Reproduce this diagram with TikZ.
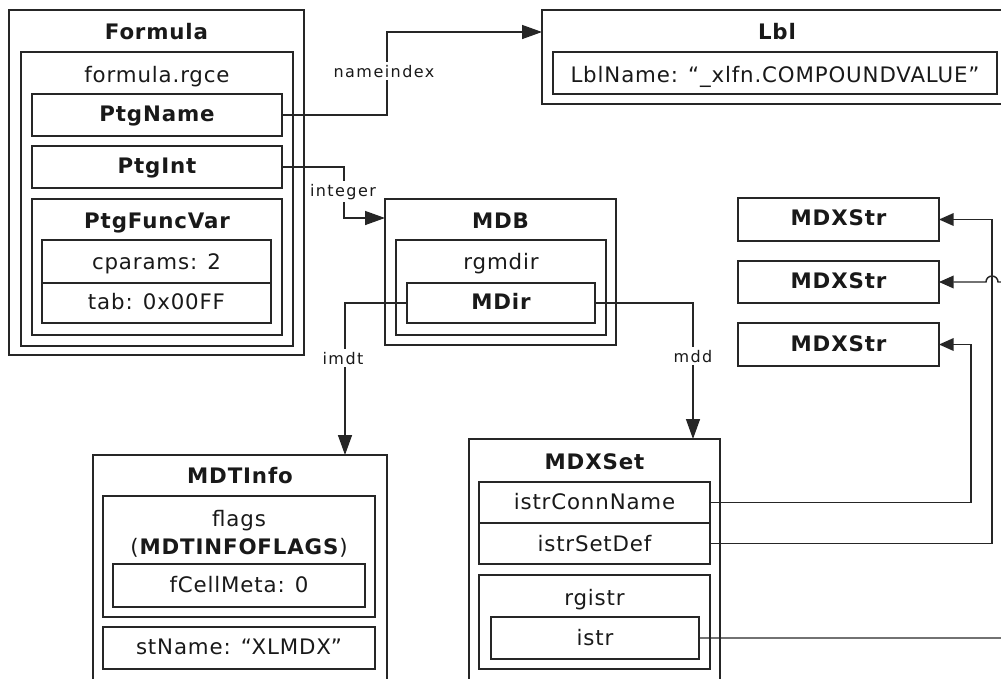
\documentclass[tikz,border=0pt]{standalone}
\usepackage{fontspec}
\setmainfont{DejaVu Sans}[LetterSpace=4]
\newfontfamily\labfont{DejaVu Sans}[LetterSpace=9]
\usetikzlibrary{arrows.meta,calc}
\newcommand{\dbox}[5]{%
  \pgfmathsetmacro\dbw{(#4-#2)*0.75}%
  \pgfmathsetmacro\dbh{(#5-#3)*0.75}%
  \node[boxs, minimum width=\dbw pt, minimum height=\dbh pt, anchor=north west] (#1) at (#2,#3) {};}
\begin{document}
\begin{tikzpicture}[x=0.75pt,y=-0.75pt,
  boxs/.style={draw=black!85,line width=1.1pt,inner sep=0pt,outer sep=0pt},
  ttl/.style={anchor=base,font=\fontsize{16}{19}\selectfont\bfseries,text=black!90,inner sep=0pt},
  txt/.style={anchor=base,font=\fontsize{16}{19}\selectfont,text=black!90,inner sep=0pt},
  lab/.style={anchor=base,font=\labfont\fontsize{12}{14}\selectfont,text=black!90,fill=white,inner sep=2pt},
  conn/.style={line width=1.1pt,draw=black!85},
  bigtip/.style={-{Triangle[length=15pt,width=10.5pt]}},
  smalltip/.style={-{Triangle[length=11pt,width=9.5pt]}}]
\useasboundingbox (0,0) rectangle (1001,679);
\clip (0,0) rectangle (1001,679);
% boxes
\dbox{formula}{9}{10}{304}{355}
\dbox{rgce}{21}{52}{293}{346}
\dbox{ptgname}{32}{94}{282}{136}
\dbox{ptgint}{32}{146}{282}{188}
\dbox{ptgfv}{32}{199}{282}{335}
\dbox{cparams}{42}{240}{271}{283}
\dbox{tab}{42}{283}{271}{323}
\dbox{mdb}{385}{199}{616}{345}
\dbox{rgmdir}{396}{240}{606}{335}
\dbox{mdir}{407}{283}{595}{323}
\dbox{lbl}{542}{10}{1012}{104}
\dbox{lblname}{553}{52}{997}{94}
\dbox{mdxstra}{738}{198}{939}{241}
\dbox{mdxstrb}{738}{261}{939}{303}
\dbox{mdxstrc}{738}{323}{939}{366}
\dbox{mdtinfo}{93}{455}{387}{690}
\dbox{flags}{103}{496}{375}{617}
\dbox{fcell}{113}{564}{365}{607}
\dbox{stname}{103}{627}{375}{669}
\dbox{mdxset}{469}{439}{720}{690}
\dbox{istrconn}{479}{482}{710}{523}
\dbox{istrset}{479}{523}{710}{564}
\dbox{rgistr}{479}{575}{710}{669}
\dbox{istr}{491}{617}{699}{659}
% texts
\node[ttl] (tformula) at (156.5,39.5) {Formula};
\node[txt] (trgce) at (157,82) {formula.rgce};
\node[ttl] (tptgname) at (157,121) {PtgName};
\node[ttl] (tptgint) at (157,173) {PtgInt};
\node[ttl] (tptgfv) at (157,228) {PtgFuncVar};
\node[txt] (tcparams) at (156.5,269) {cparams: 2};
\node[txt] (ttab) at (156.5,309) {tab: 0x00FF};
\node[ttl] (tmdb) at (500.5,228) {MDB};
\node[txt] (trgmdir) at (501,269) {rgmdir};
\node[ttl] (tmdir) at (501,309) {MDir};
\node[ttl] (tlbl) at (777,39.5) {Lbl};
\node[txt] (tlblname) at (775,82) {LblName: “\_xlfn.COMPOUNDVALUE”};
\node[ttl] (tmdxa) at (838.5,225.5) {MDXStr};
\node[ttl] (tmdxb) at (838.5,288) {MDXStr};
\node[ttl] (tmdxc) at (838.5,351) {MDXStr};
\node[ttl] (tmdtinfo) at (240,483) {MDTInfo};
\node[txt] (tflags) at (239,526) {flags};
\node[txt] (tflags2) at (239,554) {(\textbf{MDTINFOFLAGS})};
\node[txt] (tfcell) at (239,592) {fCellMeta: 0};
\node[txt] (tstname) at (239,654) {stName: “XLMDX”};
\node[ttl] (tmdxset) at (594.5,469.5) {MDXSet};
\node[txt] (tistrconn) at (594.5,509) {istrConnName};
\node[txt] (tistrset) at (594.5,551) {istrSetDef};
\node[txt] (trgistr) at (594.5,605) {rgistr};
\node[txt] (tistr) at (595,645) {istr};
% helper coordinates
\coordinate (niX) at (387,77);
\coordinate (lblrow) at (0,32);
\coordinate (intX) at (344,196);
\coordinate (mdbrow) at (0,218);
\coordinate (imdtX) at (345,360);
\coordinate (mddX) at (693,360);
\coordinate (cA) at (971,0);
\coordinate (cB) at (992,0);
\coordinate (cC) at (1012,0);
% connectors
\draw[conn,bigtip] (ptgname.east) -| (niX) |- (lbl.west |- lblrow);
\draw[conn,bigtip] (ptgint.east) -| (intX) |- (mdb.west |- mdbrow);
\draw[conn,bigtip] (mdir.west) -| (imdtX) -- (imdtX |- mdtinfo.north);
\draw[conn,bigtip] (mdir.east) -| (mddX) -- (mddX |- mdxset.north);
\draw[conn,smalltip] (istrconn.east) -| (cA |- mdxstrc.east) -- (mdxstrc.east);
\draw[conn,smalltip] (istrset.east) -| (cB |- mdxstra.east) -- (mdxstra.east);
\draw[conn,smalltip] (istr.east) -| (cC |- mdxstrb.east) -- ($(cB |- mdxstrb.east)+(6,0)$) arc[start angle=0,end angle=-180,radius=6] -- (mdxstrb.east);
% labels
\node[lab] (lni) at (384,77) {nameindex};
\node[lab] (lint) at (343,196) {integer};
\node[lab] (limdt) at (343,364) {imdt};
\node[lab] (lmdd) at (693,362) {mdd};
\end{tikzpicture}
\end{document}
